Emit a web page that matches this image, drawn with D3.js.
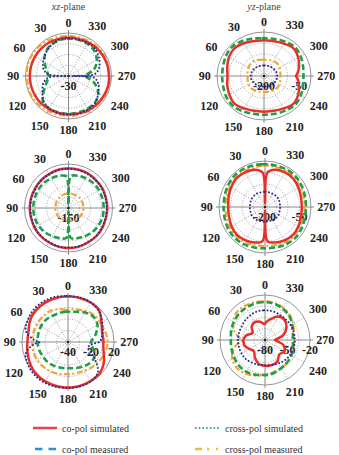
<!DOCTYPE html>
<html>
<head>
<meta charset="utf-8">
<script src="https://cdn.jsdelivr.net/npm/d3@7"></script>
<style>
  body { margin: 0; background: #fff; }
  svg { display: block; }
</style>
</head>
<body>
<svg id="chart" width="339" height="455"></svg>
<script>
// angles (deg, counter-clockwise from top) shared by every series
const angles = [0, 4, 15, 30, 45, 60, 75, 86, 90, 94, 105, 120, 135, 150, 165, 176,
                180, 184, 195, 210, 225, 240, 255, 266, 270, 274, 285, 300, 315, 330, 345, 356];

const angleTicks = [0, 30, 60, 90, 120, 150, 180, 210, 240, 270, 300, 330];
const planeTitles = ["xz", "yz"];
const legendLabels = ["co-pol simulated", "cross-pol simulated", "co-pol measured", "cross-pol measured"];

// xz-plane, row 1
const tlDomain = [-30, 0];
const tlTicks = [-30];
const tlCoSim = [-3.3,-3.3,-3.3,-3,-3,-3,-3,-3,-3,-3,-3,-3,-3,-3.3,-3.3,-3.3,-3.3,-3.3,-3,-2.4,-2.1,-1.8,-1.5,-1.5,-1.8,-1.8,-1.8,-2.1,-2.4,-3,-3.3,-3.3];
const tlCrossSim = [-3.6,-3.6,-3.9,-5.4,-7.5,-9.6,-12,-16.5,-28.5,-16.5,-12,-9,-5.4,-3.6,-3.3,-3,-3,-3,-3,-3,-3.6,-6,-8.4,-12,-27.6,-12,-7.8,-5.4,-3.6,-3.3,-3.6,-3.6];
const tlCoMeas = [-3.9,-3.9,-4.2,-5.1,-7.2,-10.8,-14.1,-15.9,-16.2,-15.9,-14.4,-10.2,-4.8,-3.6,-3.6,-3.6,-3.6,-3.6,-3.6,-3.6,-3.9,-6,-11.4,-17.4,-18.6,-17.4,-11.4,-7.2,-4.8,-3.9,-3.9,-3.9];
const tlCrossMeas = [-2.1,-2.1,-1.8,-1.5,-0.9,-0.6,-0.6,-0.9,-0.9,-0.9,-0.9,-0.6,-1.2,-1.8,-2.1,-2.4,-2.4,-2.1,-2.1,-1.8,-1.5,-1.2,-1.5,-1.8,-2.1,-1.8,-1.5,-1.2,-1.5,-1.8,-2.1,-2.1];

// yz-plane, row 1
const trDomain = [-200, 0];
const trTicks = [-200, -50];
const trCoSim = [-38,-38,-36,-28,-22,-28,-38,-44,-44,-44,-38,-30,-22,-30,-36,-38,-38,-38,-36,-30,-22,-32,-46,-58,-64,-58,-46,-32,-22,-30,-36,-38];
const trCrossSim = [-152,-152,-152,-150,-148,-146,-144,-144,-144,-144,-144,-146,-148,-150,-152,-152,-152,-152,-152,-150,-148,-146,-144,-144,-144,-144,-144,-146,-148,-150,-152,-152];
const trCoMeas = [-28,-28,-24,-16,-10,-14,-20,-22,-22,-22,-20,-14,-10,-16,-22,-24,-24,-24,-22,-18,-14,-20,-28,-32,-32,-32,-28,-20,-14,-20,-26,-28];
const trCrossMeas = [-126,-126,-124,-120,-120,-124,-128,-130,-130,-130,-128,-124,-122,-124,-126,-128,-128,-128,-126,-124,-122,-124,-128,-130,-130,-130,-128,-124,-120,-122,-124,-126];

// xz-plane, row 2
const mlDomain = [-150, 0];
const mlTicks = [-150];
const mlCoSim = [-15,-15,-15,-16.5,-16.5,-18,-18,-18,-18,-18,-18,-16.5,-15,-15,-13.5,-13.5,-13.5,-13.5,-13.5,-15,-15,-16.5,-18,-18,-18,-18,-18,-16.5,-16.5,-15,-15,-15];
const mlCrossSim = [-16.5,-16.5,-16.5,-18,-18,-19.5,-19.5,-19.5,-19.5,-19.5,-19.5,-18,-16.5,-16.5,-15,-15,-15,-15,-15,-16.5,-16.5,-18,-19.5,-19.5,-19.5,-19.5,-19.5,-18,-18,-16.5,-16.5,-16.5];
const mlCoMeas = [-138,-42,-36,-33,-30,-30,-30,-30,-30,-30,-30,-31.5,-34.5,-39,-43.5,-48,-138,-48,-43.5,-39,-34.5,-31.5,-30,-30,-30,-30,-30,-30,-30,-33,-36,-42];
const mlCrossMeas = [-100.5,-100.5,-100.5,-102,-103.5,-103.5,-105,-105,-105,-105,-105,-105,-105,-106.5,-106.5,-106.5,-106.5,-106.5,-105,-103.5,-102,-100.5,-99,-99,-99,-99,-99,-99,-99,-100.5,-100.5,-100.5];

// yz-plane, row 2
const mrDomain = [-200, 0];
const mrTicks = [-200, -50];
const mrCoSim = [-184,-50,-32,-26,-24,-30,-36,-40,-40,-40,-38,-32,-28,-32,-40,-52,-184,-52,-40,-32,-28,-32,-38,-40,-40,-40,-38,-32,-26,-26,-32,-50];
const mrCrossSim = [-134,-134,-134,-132,-132,-132,-134,-134,-134,-134,-134,-132,-132,-134,-136,-136,-136,-136,-136,-134,-132,-132,-134,-134,-134,-134,-134,-132,-132,-134,-134,-134];
const mrCoMeas = [-14,-14,-12,-10,-10,-14,-18,-20,-20,-20,-18,-14,-12,-14,-18,-20,-20,-20,-18,-14,-12,-16,-20,-22,-22,-22,-20,-16,-12,-12,-14,-14];
const mrCrossMeas = [-20,-20,-22,-20,-20,-24,-28,-28,-28,-28,-26,-24,-22,-24,-28,-30,-30,-30,-28,-24,-22,-24,-28,-28,-28,-28,-26,-24,-20,-20,-20,-20];

// xz-plane, row 3
const blDomain = [-40, 0];
const blTicks = [-40, -20, 0];
const blTickLabels = ["-40", "-20", "20"];
const blCoSim = [-0.4,-0.4,-0.4,-0.4,-0.8,-2,-4.4,-4.8,-4.8,-4.4,-3.6,-2,-0.8,-0.4,-0.4,-0.4,-0.4,-0.4,-0.4,-0.8,-1.2,-4,-8,-9.2,-9.2,-9.2,-9.2,-6.4,-1.6,-0.4,-0.4,-0.4];
const blCrossSim = [0,0,0.8,1.2,1.2,0,-2,-10,-15.2,-10,-2,0,0.8,0.8,0.4,0,0,0,0,-0.4,-3.2,-14,-22,-18,-12.8,-11.2,-8.8,-5.6,-2,-0.4,0,0];
const blCoMeas = [-13.6,-13.6,-13.6,-13.6,-12.8,-12.8,-13.2,-13.6,-13.6,-13.6,-14,-14.8,-15.2,-16,-16.8,-17.2,-17.2,-17.2,-16.4,-15.2,-13.6,-13.6,-17.6,-20,-20,-19.2,-15.2,-10.4,-8.8,-10.4,-12.8,-13.6];
const blCrossMeas = [-12,-12,-10.4,-8.8,-8.8,-8.8,-8.8,-8.8,-8.8,-8.8,-8.8,-8.8,-9.6,-10.4,-11.2,-12,-12,-12,-12,-11.2,-9.6,-8,-6.4,-5.6,-5.6,-5.6,-6.4,-7.2,-7.2,-8.8,-10.8,-11.6];

// yz-plane, row 3
const brDomain = [-80, -20];
const brTicks = [-80, -50, -20];
const brCoSim = [-58.4,-58.4,-54.8,-52.4,-54.8,-60.8,-54.8,-51.8,-51.2,-51.2,-51.8,-56,-59,-53,-47,-45.8,-45.8,-45.2,-45.2,-47,-53,-50,-54.8,-65,-66.8,-65,-54.8,-47,-42.8,-44,-51.2,-56];
const brCrossSim = [-40.4,-40.4,-40.4,-41.6,-42.8,-44,-44,-44,-44,-44,-44,-44,-44,-45.2,-45.8,-46.4,-46.4,-46.4,-45.8,-44,-42.2,-41,-40.4,-40.4,-40.4,-40.4,-40.4,-40.4,-41,-41,-40.4,-40.4];
const brCoMeas = [-29.6,-29.6,-29.6,-30.2,-30.8,-32,-33.2,-34.4,-34.4,-34.4,-33.8,-32.6,-31.4,-30.8,-32,-33.2,-33.2,-33.2,-34.4,-36.8,-38,-39.2,-41.6,-42.8,-42.8,-42.8,-41.6,-38,-34.4,-32,-30.2,-29.6];
const brCrossMeas = [-28.4,-28.4,-27.8,-27.2,-27.2,-30.8,-38,-47,-50,-47,-36.8,-29.6,-27.2,-28.4,-30.8,-33.2,-33.8,-34.4,-35.6,-36.8,-38,-39.2,-40.4,-41,-41,-41,-39.8,-36.8,-33.2,-30.8,-29,-28.4];

const panels = [
    { domain: tlDomain, ticks: tlTicks, series: { crossMeas: tlCrossMeas, coMeas: tlCoMeas, coSim: tlCoSim, crossSim: tlCrossSim } },
    { domain: trDomain, ticks: trTicks, series: { crossMeas: trCrossMeas, coMeas: trCoMeas, coSim: trCoSim, crossSim: trCrossSim } },
    { domain: mlDomain, ticks: mlTicks, series: { crossMeas: mlCrossMeas, coMeas: mlCoMeas, coSim: mlCoSim, crossSim: mlCrossSim } },
    { domain: mrDomain, ticks: mrTicks, series: { crossMeas: mrCrossMeas, coMeas: mrCoMeas, coSim: mrCoSim, crossSim: mrCrossSim } },
    { domain: blDomain, ticks: blTicks, tickLabels: blTickLabels, series: { crossMeas: blCrossMeas, coMeas: blCoMeas, coSim: blCoSim, crossSim: blCrossSim } },
    { domain: brDomain, ticks: brTicks, series: { crossMeas: brCrossMeas, coMeas: brCoMeas, coSim: brCoSim, crossSim: brCrossSim } }
];

// where each polar plot sits
const layout = [
    { cx: 68.5, cy: 76, rx: 43, ry: 43 },
    { cx: 264, cy: 76, rx: 47, ry: 44 },
    { cx: 68.5, cy: 208, rx: 44, ry: 44 },
    { cx: 265, cy: 207, rx: 46, ry: 46 },
    { cx: 68, cy: 342, rx: 46, ry: 46 },
    { cx: 265, cy: 340, rx: 45, ry: 45 }
];

const plotStyles = {
    crossMeas: { color: "#f2a43a", width: 2.2, dash: "6,2.5,2,2.5", cap: "butt" },
    coMeas:    { color: "#1f9e48", width: 2.6, dash: "6,3", cap: "butt" },
    coSim:     { color: "#e6302a", width: 2.5, dash: null, cap: "round" },
    crossSim:  { color: "#2b2d94", width: 2, dash: "0.1,3.4", cap: "round" }
};

const legendStyles = [
    { color: "#e8463a", width: 2.5, dash: null },
    { color: "#33b08e", width: 2, dash: "1.6,2.1" },
    { color: "#2e8fd6", width: 2.6, dash: "7.5,6" },
    { color: "#e6c02e", width: 2.4, dash: "7,5,2,7,2,30" }
];

const serif = "'Liberation Serif', 'Times New Roman', serif";
const svg = d3.select("#chart");

function drawPanel(p, L) {
    const g = svg.append("g").attr("transform", `translate(${L.cx},${L.cy})`);
    const r = d3.scaleLinear().domain(p.domain).range([0, 1]);
    const pt = (a, v) => {
        const t = a * Math.PI / 180;
        const f = r(v);
        return [-f * L.rx * Math.sin(t), -f * L.ry * Math.cos(t)];
    };

    // dotted grid circles
    [0.25, 0.5, 0.75].forEach(f => {
        g.append("ellipse")
            .attr("rx", f * L.rx).attr("ry", f * L.ry)
            .attr("fill", "none").attr("stroke", "#777")
            .attr("stroke-width", 0.7).attr("stroke-dasharray", "1,1.6");
    });

    // spokes
    angleTicks.forEach(a => {
        const t = a * Math.PI / 180;
        const major = a % 90 === 0;
        const ext = major ? 3 : 0;
        g.append("line")
            .attr("x1", 0).attr("y1", 0)
            .attr("x2", -(L.rx + ext) * Math.sin(t))
            .attr("y2", -(L.ry + ext) * Math.cos(t))
            .attr("stroke", major ? "#8a8a8a" : "#777")
            .attr("stroke-width", major ? 1 : 0.7)
            .attr("stroke-dasharray", major ? null : "1,1.6");
    });

    g.append("ellipse")
        .attr("rx", L.rx).attr("ry", L.ry)
        .attr("fill", "none").attr("stroke", "#888").attr("stroke-width", 0.9);

    // angle labels
    angleTicks.forEach(a => {
        const t = a * Math.PI / 180;
        const txt = String(a);
        const halfW = txt.length * 3.1;
        const d = 6 + halfW * Math.abs(Math.sin(t)) + 4.5 * Math.abs(Math.cos(t));
        g.append("text")
            .attr("x", -(L.rx + d) * Math.sin(t))
            .attr("y", -(L.ry + d) * Math.cos(t))
            .attr("text-anchor", "middle")
            .attr("dominant-baseline", "central")
            .style("font-family", serif).style("font-weight", "bold")
            .style("font-size", "12px").attr("fill", "#222")
            .text(txt);
    });

    // radial labels along the 270 direction
    p.ticks.forEach((v, i) => {
        g.append("text")
            .attr("x", r(v) * L.rx)
            .attr("y", 14)
            .attr("text-anchor", "middle")
            .style("font-family", serif).style("font-weight", "bold")
            .style("font-size", "12px").attr("fill", "#222")
            .text(p.tickLabels ? p.tickLabels[i] : String(v));
    });

    const line = d3.line().curve(d3.curveCatmullRomClosed.alpha(0.5));
    Object.keys(p.series).forEach(key => {
        const s = p.series[key];
        const st = plotStyles[key];
        g.append("path")
            .attr("d", line(angles.map((a, i) => pt(a, s[i]))))
            .attr("fill", "none")
            .attr("stroke", st.color)
            .attr("stroke-width", st.width)
            .attr("stroke-dasharray", st.dash)
            .attr("stroke-linecap", st.cap)
            .attr("stroke-linejoin", "round");
    });

    g.append("circle").attr("r", 1.3).attr("fill", "#222");
}

panels.forEach((p, i) => drawPanel(p, layout[i]));

// plane titles
planeTitles.forEach((t, i) => {
    const txt = svg.append("text")
        .attr("x", layout[i].cx).attr("y", 10)
        .attr("text-anchor", "middle")
        .style("font-family", serif).style("font-size", "10px")
        .attr("fill", "#444");
    txt.append("tspan").style("font-style", "italic").text(t);
    txt.append("tspan").text("-plane");
});

// legend
const legendPos = [
    { x: 33, y: 428 }, { x: 195, y: 428 },
    { x: 35, y: 449 }, { x: 195, y: 449 }
];
legendLabels.forEach((lab, i) => {
    const pos = legendPos[i];
    const st = legendStyles[i];
    const len = i === 0 ? 24 : i === 2 ? 21 : 26;
    svg.append("line")
        .attr("x1", pos.x).attr("x2", pos.x + len)
        .attr("y1", pos.y).attr("y2", pos.y)
        .attr("stroke", st.color).attr("stroke-width", st.width)
        .attr("stroke-dasharray", st.dash);
    svg.append("text")
        .attr("x", i % 2 === 0 ? 62 : 225).attr("y", pos.y + 3.5)
        .style("font-family", serif).style("font-size", "10px")
        .attr("fill", "#333")
        .text(lab);
});
</script>
</body>
</html>
